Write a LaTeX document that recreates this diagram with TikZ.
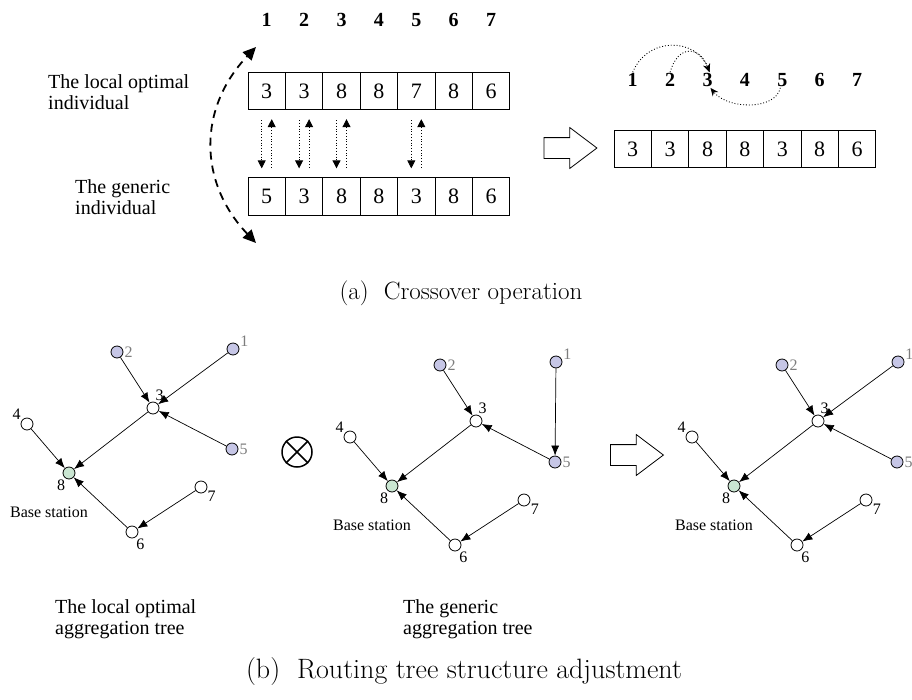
\documentclass[tikz,border=0pt]{standalone}
\usepackage{fontspec}
\newfontfamily\tms{Liberation Serif}
\usetikzlibrary{arrows.meta,shapes.arrows}
\definecolor{srcfill}{RGB}{198,198,230}
\definecolor{sinkfill}{RGB}{202,230,210}
\definecolor{lblgray}{RGB}{125,125,125}
\tikzset{
  cell/.style={draw,line width=0.8pt,minimum width=37.4pt,minimum height=37.5pt,inner sep=0pt,font=\tms\fontsize{22}{24}\selectfont},
  idx/.style={inner sep=1pt,font=\tms\bfseries\fontsize{20}{22}\selectfont},
  txt/.style={align=left,anchor=west,inner sep=0pt,font=\tms\fontsize{20}{21}\selectfont},
  swap/.style={dotted,line width=0.8pt,shorten <=10pt,shorten >=9pt,-{Triangle[length=8pt,width=8pt]}},
  swing/.style={line width=1.8pt,dash pattern=on 8pt off 6pt,{Triangle[length=13pt,width=12pt]}-{Triangle[length=13pt,width=12pt]}},
  hop/.style={dotted,line width=0.9pt,-{Stealth[length=8pt,width=7pt]}},
  blk/.style={single arrow,draw,line width=0.8pt,minimum width=40pt,minimum height=53pt,single arrow head extend=10pt,single arrow tip angle=74,inner xsep=0pt,inner ysep=10pt},
  sensor/.style={circle,draw,line width=0.8pt,minimum size=12pt,inner sep=0pt,fill=white},
  src/.style={sensor,fill=srcfill},
  sink/.style={sensor,fill=sinkfill},
  lbl/.style={inner sep=1pt,font=\tms\fontsize{16}{18}\selectfont},
  glbl/.style={lbl,text=lblgray},
  edge/.style={line width=0.7pt,-{Latex[length=10pt,width=8pt]}},
  capt/.style={font=\fontsize{25}{30}\selectfont}
}
\begin{document}
\begin{tikzpicture}[x=1pt,y=-1pt]
\useasboundingbox (0,0) rectangle (912,699);

\foreach \i in {1,...,7} {
  \node[idx] (n\i) at ({229.3+37.4*\i},20) {\i};
  \node[idx] (m\i) at ({595.3+37.4*\i},80) {\i};
}
\foreach \v [count=\i] in {3,3,8,8,7,8,6}
  \node[cell] (t\i) at ({229.3+37.4*\i},91) {\v};
\foreach \v [count=\i] in {5,3,8,8,3,8,6}
  \node[cell] (g\i) at ({229.3+37.4*\i},196.5) {\v};
\foreach \v [count=\i] in {3,3,8,8,3,8,6}
  \node[cell] (r\i) at ({595.3+37.4*\i},149) {\v};

\node[txt] (lopt) at (48,92) {The local optimal\\individual};
\node[txt] (lgen) at (75,197) {The generic\\individual};

\foreach \i in {1,2,3,5} {
  \draw[swap] ([xshift=-5pt]t\i.south) -- ([xshift=-5pt]g\i.north);
  \draw[swap] ([xshift=5pt]g\i.north) -- ([xshift=5pt]t\i.south);
}
\coordinate (ctop) at (256,47);
\coordinate (cbot) at (256,243);
\draw[swing] (cbot) .. controls (198,182) and (198,108) .. (ctop);

\node[blk] (ar1) at (563.5,148) {};
\draw[hop] (m1.north) .. controls (648,36) and (696,38) .. ([xshift=2pt]m3.north);
\draw[hop] (m2.north) .. controls (678,44) and (700,46) .. ([xshift=2pt]m3.north);
\draw[hop] ([xshift=-2pt]m5.south) .. controls (776,110) and (728,110) .. ([xshift=3pt]m3.south);

\node[capt] (capa) at (461,293) {(a)~ Crossover operation};

\foreach \t/\dx/\dy in {a/0/0,b/323/13,c/665/13} {
  \begin{scope}[shift={(\dx,\dy)}]
    \node[src,label={[glbl]0:2}] (\t2) at (117,352) {};
    \node[src,label={[glbl]15:1}] (\t1) at (233,349) {};
    \node[sensor,label={[lbl,label distance=0pt]78:3}] (\t3) at (153,408) {};
    \node[sensor,label={[lbl]145:4}] (\t4) at (27,424) {};
    \node[src,label={[glbl]0:5}] (\t5) at (232,449) {};
    \node[sink,label={[lbl]-115:8}] (\t8) at (69,473) {};
    \node[lbl] (\t9) at (49,512) {Base station};
    \node[sensor,label={[lbl]-30:7}] (\t7) at (201,487) {};
    \node[sensor,label={[lbl]-60:6}] (\t6) at (132,532) {};
  \end{scope}
}
\foreach \t in {a,b,c} {
  \draw[edge] (\t2) -- (\t3);
  \draw[edge] (\t5) -- (\t3);
  \draw[edge] (\t3) -- (\t8);
  \draw[edge] (\t4) -- (\t8);
  \draw[edge] (\t6) -- (\t8);
  \draw[edge] (\t7) -- (\t6);
}
\draw[edge] (a1) -- (a3);
\draw[edge] (c1) -- (c3);
\draw[edge] (b1) -- (b5);

\node[circle,draw,line width=1.5pt,minimum size=30pt,inner sep=0pt] (op) at (297,452) {};
\draw[line width=1.5pt] (op.north west) -- (op.south east);
\draw[line width=1.5pt] (op.north east) -- (op.south west);
\node[blk] (ar2) at (630,455) {};

\node[txt] (ltree) at (55,619) {The local optimal\\aggregation tree};
\node[txt] (gtree) at (403,619) {The generic\\aggregation tree};
\node[capt,font=\fontsize{28}{32}\selectfont] (capb) at (464,672) {(b)~ Routing tree structure adjustment};
\end{tikzpicture}
\end{document}
